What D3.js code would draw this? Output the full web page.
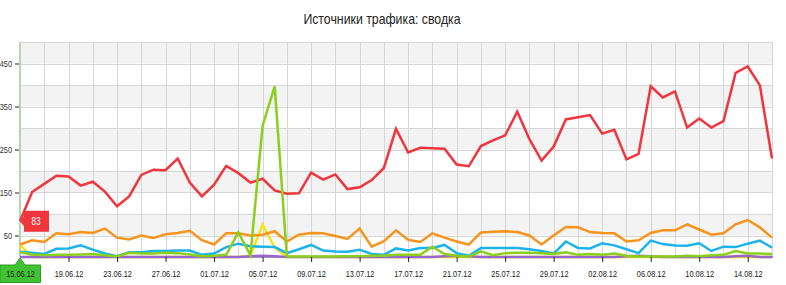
<!DOCTYPE html>
<html>
<head>
<meta charset="utf-8">
<script src="https://cdn.jsdelivr.net/npm/d3@7"></script>
<style>
	body { margin: 0; background: #fff; }
	svg text { font-family: "Liberation Sans", Arial, sans-serif; }
</style>
</head>
<body>
<div id="chart"></div>
<script>
// traffic sources, one value per day from 15.06.12 to 16.08.12
var startDate = new Date(2012, 5, 15);
var endDate = new Date(2012, 7, 16);
var yTicks = [50, 150, 250, 350, 450];

var search = [83, 151, 170, 189, 187, 166, 175, 152, 118, 141, 191, 203, 202, 229, 173, 141, 168, 212, 195, 173,
	182, 155, 147, 148, 196, 180, 192, 158, 162, 179, 207, 298, 243, 254, 253, 252, 215, 211, 258, 271,
	283, 338, 274, 224, 257, 320, 325, 330, 287, 296, 227, 240, 397, 371, 385, 301, 322, 301, 316, 428,
	443, 399, 229];
var direct = [29, 39, 35, 55, 53, 58, 56, 66, 45, 41, 50, 44, 53, 56, 61, 39, 29, 55, 55, 50,
	52, 60, 36, 52, 56, 55, 49, 42, 66, 24, 37, 62, 40, 35, 55, 45, 36, 29, 57, 59,
	60, 58, 50, 29, 50, 70, 69, 58, 56, 55, 36, 39, 56, 62, 62, 76, 64, 52, 55, 76,
	86, 69, 45];
var referral = [12, 10, 7, 19, 20, 27, 17, 8, 2, 11, 11, 14, 14, 15, 15, 5, 8, 23, 31, 25,
	24, 23, 9, 18, 28, 15, 13, 12, 17, 7, 5, 20, 15, 21, 21, 28, 9, 3, 21, 21,
	21, 21, 18, 14, 8, 36, 21, 20, 32, 27, 18, 9, 38, 30, 27, 26, 32, 14, 24, 23,
	31, 38, 22];
var social = [11, 6, 4, 5, 5, 6, 7, 4, 1, 10, 8, 8, 10, 9, 6, 2, 3, 5, 57, 4,
	305, 397, 1, 1, 1, 1, 1, 2, 2, 3, 3, 5, 5, 5, 24, 7, 3, 1, 13, 4,
	9, 10, 10, 9, 7, 11, 5, 7, 5, 8, 3, 1, 1, 1, 1, 3, 2, 4, 5, 14,
	8, 8, 7];
var mail = [28, 0, 0, 0, 0, 0, 0, 0, 0, 0, 0, 0, 0, 0, 0, 0, 0, 0, 0, 3,
	75, 22, 0, 0, 0, 0, 0, 0, 0, 0, 0, 0, 0, 0, 0, 0, 0, 0, 0, 0,
	0, 0, 0, 0, 0, 0, 0, 0, 0, 0, 0, 0, 0, 0, 0, 0, 0, 0, 0, 0,
	0, 0, 0];
var other = [0, 0, 0, 0, 0, 0, 0, 0, 0, 0, 0, 0, 0, 0, 0, 0, 0, 0, 0, 2,
	3, 2, 0, 0, 0, 0, 0, 0, 0, 0, 0, 0, 0, 0, 0, 2, 3, 2, 0, 0,
	0, 0, 0, 0, 0, 0, 0, 0, 0, 0, 2, 3, 2, 0, 0, 0, 0, 0, 0, 2,
	3, 0, 0];

var dates = d3.timeDay.range(startDate, d3.timeDay.offset(endDate, 1));

// drawing order, bottom first
var series = [
	{name: "mail", values: mail, color: "#f2e416"},
	{name: "other", values: other, color: "#9966cc"},
	{name: "referral", values: referral, color: "#1db3ea"},
	{name: "direct", values: direct, color: "#f7941d"},
	{name: "search", values: search, color: "#f0363c"},
	{name: "social", values: social, color: "#8bcf1d"}
];

var width = 786, height = 285;
var margin = {top: 42, right: 14, bottom: 28, left: 20};

var x = d3.scaleTime()
	.domain([startDate, endDate])
	.range([margin.left, width - margin.right]);

var y = d3.scaleLinear()
	.domain([0, 500])
	.range([height - margin.bottom, margin.top]);

var fmt = d3.timeFormat("%d.%m.%y");

// the original font is a narrow one, squeeze the glyphs
function narrow(sel) {
	sel.each(function() {
		var len = this.getComputedTextLength();
		d3.select(this)
			.attr("textLength", len * 0.82)
			.attr("lengthAdjust", "spacingAndGlyphs");
	});
}

var svg = d3.select("#chart").append("svg")
	.attr("width", width)
	.attr("height", height);

svg.append("text")
	.attr("x", 382)
	.attr("y", 24)
	.attr("text-anchor", "middle")
	.style("font-size", "15px")
	.style("fill", "#222")
	.text("Источники трафика: сводка")
	.call(narrow);

// striped background
var bands = d3.range(0, 500, 50);
svg.selectAll(".band")
	.data(bands)
	.enter().append("rect")
	.attr("class", "band")
	.attr("x", margin.left)
	.attr("y", function(d) { return y(d + 50); })
	.attr("width", width - margin.right - margin.left + 1)
	.attr("height", function(d) { return y(d) - y(d + 50); })
	.style("fill", function(d) { return (d / 50) % 2 ? "#f3f3f3" : "#fff"; });

// grid
svg.selectAll(".hgrid")
	.data(d3.range(50, 501, 50))
	.enter().append("line")
	.attr("x1", margin.left)
	.attr("x2", width - margin.right + 1)
	.attr("y1", function(d) { return Math.round(y(d)) + 0.5; })
	.attr("y2", function(d) { return Math.round(y(d)) + 0.5; })
	.style("stroke", "#d6d6d6");

svg.selectAll(".vgrid")
	.data(dates.filter(function(d, i) { return i % 2 === 0 && i > 0; }))
	.enter().append("line")
	.attr("x1", function(d) { return Math.round(x(d)) + 0.5; })
	.attr("x2", function(d) { return Math.round(x(d)) + 0.5; })
	.attr("y1", margin.top)
	.attr("y2", y(0))
	.style("stroke", "#d6d6d6");

// y axis
var yAxis = d3.axisLeft(y).tickValues(yTicks).tickSize(5).tickPadding(3);
var gy = svg.append("g")
	.attr("transform", "translate(" + margin.left + ",0)")
	.call(yAxis);
gy.select(".domain").remove();
gy.selectAll("line").style("stroke", "#222");
gy.selectAll("text").style("font-size", "9px").style("fill", "#333").call(narrow);

svg.append("line")
	.attr("x1", margin.left).attr("x2", margin.left)
	.attr("y1", margin.top).attr("y2", y(0))
	.style("stroke", "#b7d4ae")
	.style("stroke-width", 2);

svg.append("line")
	.attr("x1", margin.left).attr("x2", width - margin.right + 1)
	.attr("y1", y(0)).attr("y2", y(0))
	.style("stroke", "#5a4a6a");

// lines
var line = d3.line()
	.x(function(d, i) { return x(dates[i]); })
	.y(function(d) { return y(d); });

svg.selectAll(".series")
	.data(series)
	.enter().append("path")
	.attr("class", "series")
	.attr("d", function(d) { return line(d.values); })
	.style("fill", "none")
	.style("stroke", function(d) { return d.color; })
	.style("stroke-width", 2.5);

// current date marker
var x0 = x(dates[0]);
svg.append("path")
	.attr("d", "M" + x0 + "," + (y(0) + 1) + "L" + (x0 + 5) + ",265L40.5,265L40.5,282.5L0,282.5L0,265L" + (x0 - 5) + ",265Z")
	.style("fill", "#41c232")
	.style("stroke", "#2f9a22");

// x axis
var xAxis = d3.axisBottom(x)
	.tickValues(dates.filter(function(d, i) { return i % 4 === 0; }))
	.tickSize(5)
	.tickPadding(9)
	.tickFormat(fmt);
var gx = svg.append("g")
	.attr("transform", "translate(0," + y(0) + ")")
	.call(xAxis);
gx.select(".domain").remove();
gx.selectAll("line").style("stroke", "#222");
gx.selectAll("text").style("font-size", "9px").style("fill", "#222").call(narrow);
gx.selectAll(".tick").filter(function(d, i) { return i === 0; }).select("line").remove();

// value marker for the first point
var yv = y(search[0]);
svg.append("path")
	.attr("d", "M" + x0 + "," + yv + "L" + (x0 + 4) + "," + (yv - 5) + "L" + (x0 + 4) + "," + (yv - 10.5) +
		"L49," + (yv - 10.5) + "L49," + (yv + 10.5) + "L" + (x0 + 4) + "," + (yv + 10.5) + "L" + (x0 + 4) + "," + (yv + 5) + "Z")
	.style("fill", "#f0363c");
svg.append("text")
	.attr("x", 36)
	.attr("y", yv)
	.attr("dy", "0.35em")
	.attr("text-anchor", "middle")
	.style("font-size", "10px")
	.style("fill", "#fff")
	.text(search[0])
	.call(narrow);
</script>
</body>
</html>
